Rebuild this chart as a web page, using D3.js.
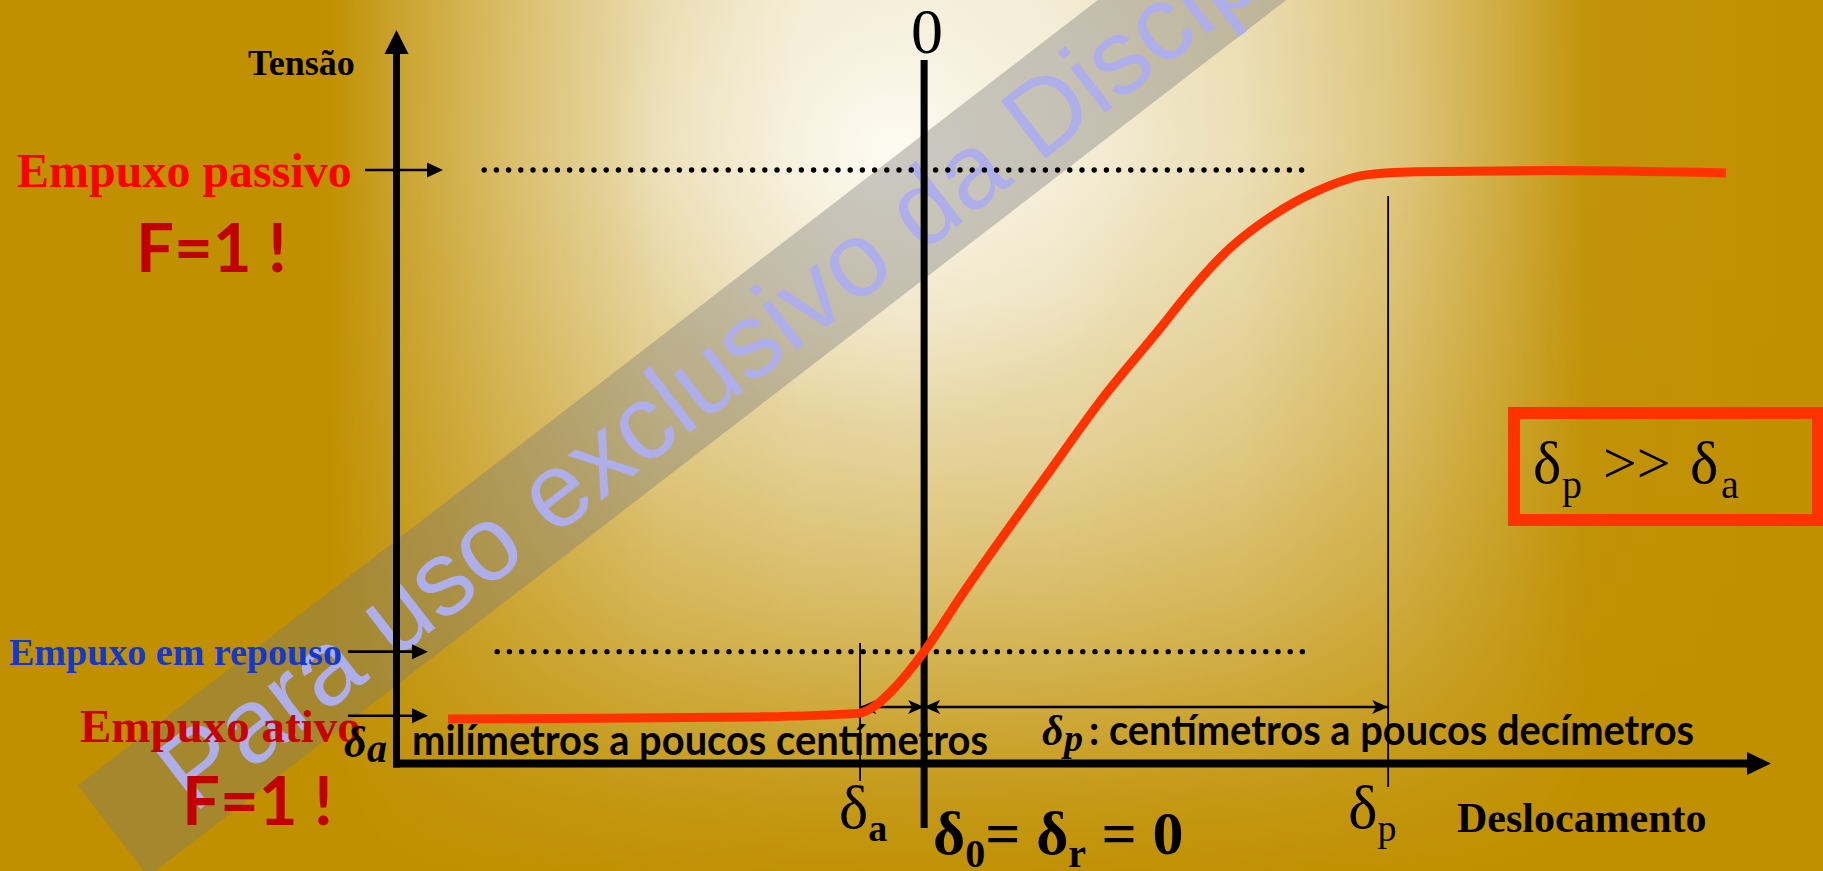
<!DOCTYPE html>
<html>
<head>
<meta charset="utf-8">
<script src="https://cdn.jsdelivr.net/npm/d3@7"></script>
<style>
  html, body { margin: 0; padding: 0; overflow: hidden; background: #C09000; }
  svg { display: block; }
</style>
</head>
<body>
<svg id="chart" width="1823" height="871"></svg>
<script>
// ---- data: earth-pressure vs. wall displacement ----
// displacement in arbitrary units (0 = at-rest position), stress in arbitrary units
const displacement = [-10.26, -6.98, -3.75, -1.42, -1.06, -0.67, 0, 0.78, 2.63, 3.79, 5.15, 5.60, 6.59, 7.52, 8.45, 9.53, 10.60, 13.49, 17.28];
const stress       = [0.73, 0.74, 0.76, 0.82, 0.94, 1.21, 1.83, 2.72, 4.70, 5.92, 7.18, 7.61, 8.43, 8.97, 9.36, 9.63, 9.68, 9.70, 9.66];

// reference stress levels
const levelNames  = ["Empuxo passivo", "Empuxo em repouso", "Empuxo ativo"];
const levelValues = [9.71, 1.83, 0.78];
const levelColors = ["#FF0000", "#1238D0", "#C80000"];
const levelSizes  = [48, 38, 47];

// characteristic displacements
const deltaA = -1.38;
const deltaP = 10;

const W = 1823, H = 871;
const svg = d3.select("#chart");

// ---- scales ----
const x = d3.scaleLinear().domain([-11.37, 18.25]).range([396.5, 1771]);
const y = d3.scaleLinear().domain([0, 12]).range([763.5, 30]);

// ---- background: gold slide with a soft light burst ----
const defs = svg.append("defs");

function gradient(id, x1, y1, x2, y2, stops) {
  const gr = defs.append("linearGradient").attr("id", id)
    .attr("gradientUnits", "userSpaceOnUse")
    .attr("x1", x1).attr("y1", y1).attr("x2", x2).attr("y2", y2);
  stops.forEach(([o, v]) => gr.append("stop").attr("offset", o)
    .attr("stop-color", d3.interpolateGreys(1 - v)));
}
// horizontal and vertical light profiles (white = lit)
gradient("hProfile", 0, 0, W, 0, [
  [0, 0], [0.18, 0], [0.22, 0.18], [0.28, 0.42], [0.36, 0.72], [0.44, 0.93],
  [0.5, 1], [0.58, 0.96], [0.68, 0.75], [0.77, 0.48], [0.83, 0.22], [0.87, 0.04], [1, 0]
]);
gradient("vProfile", 0, 0, 0, H, [
  [0, 0.95], [0.17, 1], [0.34, 0.8], [0.52, 0.6], [0.69, 0.4], [0.8, 0.24], [0.92, 0.09], [1, 0.02]
]);
defs.append("mask").attr("id", "mH")
  .append("rect").attr("width", W).attr("height", H).attr("fill", "url(#hProfile)");
defs.append("mask").attr("id", "mV")
  .append("rect").attr("width", W).attr("height", H).attr("fill", "url(#vProfile)");

const core = defs.append("radialGradient").attr("id", "core")
  .attr("gradientUnits", "userSpaceOnUse")
  .attr("cx", 890).attr("cy", 150).attr("r", 280);
[[0, "#FFFDF6", 0.85], [0.5, "#FBF7EA", 0.35], [1, "#FBF7EA", 0]]
  .forEach(([o, c, a]) => core.append("stop").attr("offset", o)
    .attr("stop-color", c).attr("stop-opacity", a));

svg.append("rect").attr("width", W).attr("height", H).attr("fill", "#C09000");
svg.append("g").attr("mask", "url(#mV)")
  .append("rect").attr("width", W).attr("height", H)
  .attr("fill", "#F4EEDA").attr("mask", "url(#mH)");
svg.append("rect").attr("width", W).attr("height", H).attr("fill", "url(#core)");

// ---- diagonal watermark band ----
const wm = svg.append("g").attr("transform", "translate(113,831) rotate(-37.6)");
wm.append("rect")
  .attr("x", 0).attr("y", -57.5).attr("width", 2000).attr("height", 115)
  .attr("fill", "#787878").attr("fill-opacity", 0.38);
wm.append("text")
  .attr("x", 74).attr("y", 36)
  .attr("font-family", "Liberation Sans").attr("font-size", 106)
  .attr("fill", "#ADAEEA")
  .text("Para uso exclusivo da Disciplina");

// arrowhead markers for the dimension lines
function marker(id, orient) {
  defs.append("marker")
    .attr("id", id)
    .attr("viewBox", "0 -7 16 14")
    .attr("refX", 16).attr("refY", 0)
    .attr("markerWidth", 16).attr("markerHeight", 14)
    .attr("markerUnits", "userSpaceOnUse")
    .attr("orient", orient)
    .append("path")
    .attr("d", "M0,-7 L16,0 L0,7 L4,0 Z")
    .attr("fill", "#000");
}
marker("dimEnd", "auto");
marker("dimStart", "auto-start-reverse");

const g = svg.append("g");

// ---- axes ----
const x0 = x.range()[0], x1 = x.range()[1];
const y0 = y.range()[0], y1 = y.range()[1];
// horizontal (displacement) axis
g.append("line")
  .attr("x1", x0 - 3.5).attr("x2", x1 - 22)
  .attr("y1", y0).attr("y2", y0)
  .attr("stroke", "#000").attr("stroke-width", 8);
g.append("path")
  .attr("d", `M${x1},${y0} L${x1 - 24},${y0 - 11.5} L${x1 - 24},${y0 + 11.5} Z`)
  .attr("fill", "#000");
// vertical (stress) axis
g.append("line")
  .attr("x1", x0).attr("x2", x0)
  .attr("y1", y0 + 4).attr("y2", y1 + 22)
  .attr("stroke", "#000").attr("stroke-width", 7);
g.append("path")
  .attr("d", `M${x0},${y1} L${x0 - 12},${y1 + 24} L${x0 + 12},${y1 + 24} Z`)
  .attr("fill", "#000");

// axis titles
g.append("text").attr("x", 248).attr("y", 75)
  .attr("font-family", "Liberation Serif").attr("font-weight", "bold")
  .attr("font-size", 36).attr("fill", "#000").text("Tensão");
g.append("text").attr("x", 1457).attr("y", 832)
  .attr("font-family", "Liberation Serif").attr("font-weight", "bold")
  .attr("font-size", 42).attr("fill", "#000").text("Deslocamento");

// ---- zero (at-rest) line ----
g.append("line")
  .attr("x1", x(0)).attr("x2", x(0))
  .attr("y1", 60).attr("y2", 828)
  .attr("stroke", "#000").attr("stroke-width", 7);
g.append("text").attr("x", x(0) + 3).attr("y", 53)
  .attr("text-anchor", "middle")
  .attr("font-family", "Liberation Serif").attr("font-size", 64)
  .attr("fill", "#000").text("0");

// ---- dotted guide lines at passive and at-rest levels ----
const guideFrom = [-9.48, -9.2];
[levelValues[0], levelValues[1]].forEach((v, i) => {
  g.append("line")
    .attr("x1", x(guideFrom[i])).attr("x2", x(8.3))
    .attr("y1", y(v)).attr("y2", y(v))
    .attr("stroke", "#000").attr("stroke-width", 5.4)
    .attr("stroke-linecap", "round")
    .attr("stroke-dasharray", "0 12.2");
});

// ---- level labels with arrows into the axis ----
const labelX = [17, 9, 80];
const labelY = [187, 665, 742];
levelNames.forEach((name, i) => {
  g.append("text")
    .attr("x", labelX[i]).attr("y", labelY[i])
    .attr("font-family", "Liberation Serif").attr("font-weight", "bold")
    .attr("font-size", levelSizes[i]).attr("fill", levelColors[i])
    .text(name);
  const ax0 = i === 0 ? 365 : 348;
  const ax1 = i === 0 ? 443 : 428;
  const yy = y(levelValues[i]);
  g.append("line")
    .attr("x1", ax0).attr("x2", ax1 - 14)
    .attr("y1", yy).attr("y2", yy)
    .attr("stroke", "#000").attr("stroke-width", 2.6);
  g.append("path")
    .attr("d", `M${ax1},${yy} L${ax1 - 16},${yy - 7.5} L${ax1 - 16},${yy + 7.5} Z`)
    .attr("fill", "#000");
});

// "F=1 !" notes
[[136, 272], [182, 825]].forEach(([fx, fy]) => {
  g.append("text").attr("x", fx).attr("y", fy)
    .attr("font-family", "Lato").attr("font-weight", "bold")
    .attr("font-size", 67).attr("fill", "#C00000")
    .text("F=1 !");
});

// ---- thin marker lines at δa and δp ----
g.append("line")
  .attr("x1", x(deltaA)).attr("x2", x(deltaA))
  .attr("y1", 643).attr("y2", 781)
  .attr("stroke", "#000").attr("stroke-width", 1.8);
g.append("line")
  .attr("x1", x(deltaP)).attr("x2", x(deltaP))
  .attr("y1", 196).attr("y2", 787)
  .attr("stroke", "#000").attr("stroke-width", 1.8);

// dimension arrows
const dimY = 707;
[[deltaA, 0], [0, deltaP]].forEach(([a, b]) => {
  g.append("line")
    .attr("x1", x(a)).attr("x2", x(b))
    .attr("y1", dimY).attr("y2", dimY)
    .attr("stroke", "#000").attr("stroke-width", 2.4)
    .attr("marker-start", "url(#dimStart)")
    .attr("marker-end", "url(#dimEnd)");
});

// ---- stress–displacement curve ----
const pts = displacement.map((d, i) => [d, stress[i]]);
const line = d3.line()
  .x(d => x(d[0]))
  .y(d => y(d[1]))
  .curve(d3.curveMonotoneX);
g.append("path")
  .datum(pts)
  .attr("d", line)
  .attr("fill", "none")
  .attr("stroke", "#FF3300")
  .attr("stroke-width", 9)
  .attr("stroke-linejoin", "round");

// ---- range annotations ----
const ann1 = g.append("text").attr("y", 757).attr("font-family", "Liberation Serif")
  .attr("font-style", "italic").attr("font-weight", "bold").attr("fill", "#000");
ann1.append("tspan").attr("x", 344).attr("font-size", 44).text("δ");
ann1.append("tspan").attr("x", 367).attr("font-size", 40).attr("dy", 5).text("a");
g.append("text").attr("x", 412).attr("y", 755)
  .attr("font-family", "Lato").attr("font-weight", "bold").attr("font-size", 42)
  .attr("textLength", 576).attr("lengthAdjust", "spacingAndGlyphs")
  .attr("fill", "#000").text("milímetros a poucos centímetros");

const ann2 = g.append("text").attr("y", 745).attr("font-family", "Liberation Serif")
  .attr("font-style", "italic").attr("font-weight", "bold").attr("fill", "#000");
ann2.append("tspan").attr("x", 1042).attr("font-size", 42).text("δ");
ann2.append("tspan").attr("x", 1064).attr("font-size", 38).attr("dy", 6).text("p");
g.append("text").attr("x", 1089).attr("y", 745)
  .attr("font-family", "Lato").attr("font-weight", "bold").attr("font-size", 42)
  .attr("textLength", 605).attr("lengthAdjust", "spacingAndGlyphs")
  .attr("fill", "#000").text(": centímetros a poucos decímetros");

// ---- δ labels below the axis ----
function deltaLabel(px, sub, bold) {
  const t = g.append("text").attr("y", 828)
    .attr("font-family", "Liberation Serif").attr("fill", "#000");
  t.append("tspan").attr("x", px).attr("font-size", 62).text("δ");
  t.append("tspan").attr("font-size", 38).attr("dy", 13)
    .attr("font-weight", bold ? "bold" : "normal").text(sub);
}
deltaLabel(x(deltaA) - 21, "a", true);
deltaLabel(x(deltaP) - 40, "p", false);

const z = g.append("text").attr("y", 854)
  .attr("font-family", "Liberation Serif").attr("font-weight", "bold").attr("fill", "#000");
z.append("tspan").attr("x", x(0) + 9).attr("font-size", 62).text("δ");
z.append("tspan").attr("font-size", 40).attr("dy", 13).text("0");
z.append("tspan").attr("font-size", 62).attr("dy", -13).text("= δ");
z.append("tspan").attr("font-size", 40).attr("dy", 13).text("r");
z.append("tspan").attr("font-size", 62).attr("dy", -13).text(" = 0");

// ---- boxed comparison ----
g.append("rect")
  .attr("x", 1514).attr("y", 413).attr("width", 304).attr("height", 107)
  .attr("fill", "none").attr("stroke", "#FF3300").attr("stroke-width", 12);
const cmp = g.append("text").attr("y", 483)
  .attr("font-family", "Liberation Serif").attr("fill", "#000");
cmp.append("tspan").attr("x", 1533).attr("font-size", 60).text("δ");
cmp.append("tspan").attr("x", 1562).attr("font-size", 40).attr("dy", 15).text("p");
cmp.append("tspan").attr("x", 1603).attr("font-size", 60).attr("dy", -15).text(">>");
cmp.append("tspan").attr("x", 1690).attr("font-size", 60).text("δ");
cmp.append("tspan").attr("x", 1721).attr("font-size", 40).attr("dy", 15).text("a");
</script>
</body>
</html>
